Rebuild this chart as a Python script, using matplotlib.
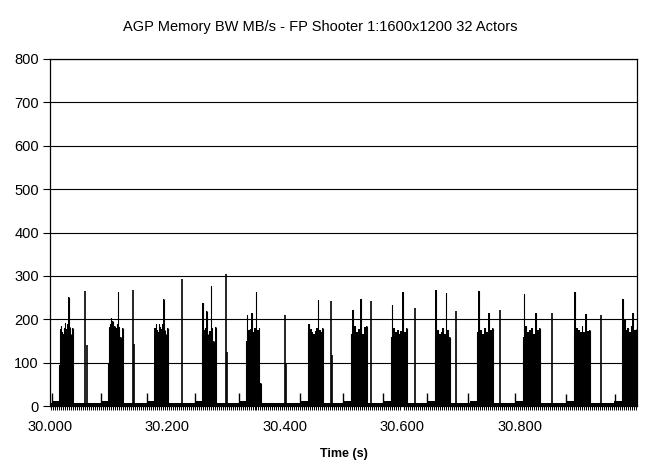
import numpy as np
import matplotlib
matplotlib.use("Agg")
import matplotlib.pyplot as plt
from matplotlib.ticker import MultipleLocator, FixedLocator

plt.rcParams["font.family"] = ["Liberation Sans", "DejaVu Sans"]

# bursts of AGP traffic: start/end time (s) and bar heights (MB/s) left to right
burst_start = [30.0153, 30.0987, 30.1770, 30.2587, 30.3336, 30.4391, 30.5123,
               30.5804, 30.6553, 30.7268, 30.8051, 30.8919, 30.9736]
burst_end = [30.0391, 30.1243, 30.2009, 30.2826, 30.3591, 30.4647, 30.5396,
             30.6077, 30.6809, 30.7540, 30.8340, 30.9191, 30.9991]
burst_heights = [
    [95, 178, 185, 170, 165, 180, 192, 178, 188, 251, 182, 165, 40, 179],
    [100, 183, 188, 203, 195, 178, 185, 180, 190, 262, 182, 160, 45, 179],
    [90, 180, 190, 175, 170, 188, 182, 178, 190, 247, 175, 165, 40, 179],
    [170, 238, 175, 180, 219, 165, 160, 172, 276, 180, 150, 40, 181],
    [150, 209, 175, 178, 214, 170, 180, 263, 175, 180, 52],
    [175, 190, 178, 170, 165, 172, 180, 244, 175, 170, 179],
    [165, 221, 185, 170, 178, 247, 165, 183, 184],
    [160, 234, 180, 170, 175, 165, 172, 262, 170, 179],
    [160, 267, 175, 165, 170, 180, 165, 261, 175, 160],
    [170, 264, 175, 165, 180, 170, 215, 175, 179],
    [160, 258, 185, 170, 175, 180, 165, 215, 175, 179],
    [165, 262, 180, 175, 170, 185, 170, 213, 172, 176],
    [165, 246, 200, 175, 180, 170, 185, 215, 175, 178],
]

# isolated transfers between bursts
spike_t = [30.0604, 30.0630, 30.1418, 30.1438, 30.2242, 30.2996, 30.3013,
           30.4000, 30.4017, 30.4783, 30.4800, 30.5464, 30.6213, 30.6923,
           30.7660, 30.8557, 30.9379]
spike_v = [265, 140, 268, 143, 293, 304, 125, 210, 100, 242, 117, 241, 225,
           219, 221, 214, 209]

# small blips
bump_t = [30.0034, 30.0863, 30.1646, 30.2468, 30.3217, 30.4255, 30.4987,
          30.5668, 30.6417, 30.7115, 30.7927, 30.8795, 30.9617]
bump_v = [29, 31, 29, 31, 31, 29, 31, 31, 29, 31, 31, 28, 27]

fig = plt.figure(figsize=(6.45, 4.62), dpi=100)
ax = fig.add_axes([0.0775, 0.1212, 0.9101, 0.7511])

for s, e, h in zip(burst_start, burst_end, burst_heights):
    t = np.linspace(s, e, len(h))
    ax.fill_between(t, 0, h, step="mid", color="black", lw=0)
    ax.vlines(t, 0, h, color="black", lw=0.8)
    # low shoulder just before each burst
    ax.fill_between([s - 0.012, s], 0, 12, color="black", lw=0)

ax.vlines(spike_t, 0, spike_v, color="black", lw=1.2)
ax.vlines(bump_t, 0, bump_v, color="black", lw=1.0)
ax.fill_between([30.0, 31.0], 0, 6, color="black", lw=0)

ax.set_xlim(30.0, 31.0)
ax.set_ylim(0, 800)
ax.yaxis.set_major_locator(MultipleLocator(100))
ax.grid(axis="y", color="black", lw=0.8)
ax.set_axisbelow(True)

ax.xaxis.set_major_locator(FixedLocator([30.0, 30.2, 30.4, 30.6, 30.8]))
ax.set_xticklabels(["30.000", "30.200", "30.400", "30.600", "30.800"])
ax.xaxis.set_minor_locator(MultipleLocator(0.0034))
ax.tick_params(axis="x", which="major", length=0, labelsize=10.5, pad=10)
ax.tick_params(axis="x", which="minor", length=3, width=0.7, direction="out")
ax.tick_params(axis="y", length=5, width=0.8, labelsize=10.5, pad=3)

for sp in ["top", "right", "left", "bottom"]:
    ax.spines[sp].set_linewidth(0.9)

ax.set_xlabel("Time (s)", fontsize=9, fontweight="bold", labelpad=10)
fig.text(0.496, 0.941, "AGP Memory BW MB/s - FP Shooter 1:1600x1200 32 Actors",
         ha="center", va="center", fontsize=10.5)

fig.savefig("out.png", dpi=100)
